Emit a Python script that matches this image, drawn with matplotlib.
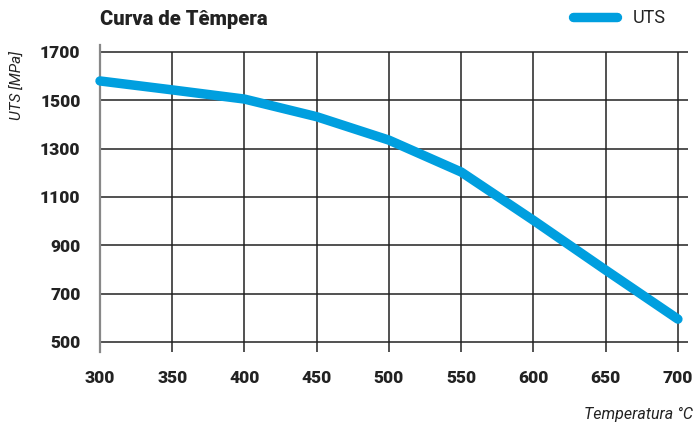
import matplotlib.pyplot as plt
import numpy as np

temps = [300, 350, 400, 450, 500, 550, 600, 650, 700]
uts = [1580, 1543, 1505, 1432, 1335, 1203, 1003, 797, 594]
xticks = [300, 350, 400, 450, 500, 550, 600, 650, 700]
yticks = [500, 700, 900, 1100, 1300, 1500, 1700]

blue = '#009FDF'
plt.rcParams['font.family'] = ['Roboto', 'DejaVu Sans']

fig = plt.figure(figsize=(6.94, 4.25), dpi=100)
ax = fig.add_axes([0.1441, 0.1718, 0.8473, 0.7224])

ax.set_xlim(300, 707)
ax.set_ylim(458, 1729)

# grid drawn by hand so the verticals stop at 1700 and run past the bottom line
ax.hlines(yticks, 300, 707, color='#222222', linewidth=1.1, zorder=1)
ax.vlines(xticks[1:], 458, 1700, color='#222222', linewidth=1.1, zorder=1)

ax.plot(temps, uts, color=blue, linewidth=6.8, solid_capstyle='round',
        solid_joinstyle='round', zorder=3, clip_on=False, label='UTS')

for s in ['top', 'right', 'bottom']:
    ax.spines[s].set_visible(False)
ax.spines['left'].set_color('#888888')
ax.spines['left'].set_linewidth(1.6)

ax.set_xticks(xticks)
ax.set_yticks(yticks)
ax.tick_params(axis='both', length=0, labelsize=12.5, colors='#222222')
ax.tick_params(axis='y', pad=14)
ax.tick_params(axis='x', pad=13)
for lbl in ax.get_xticklabels() + ax.get_yticklabels():
    lbl.set_fontweight('black')

fig.text(0.144, 0.955, 'Curva de Têmpera', fontsize=14.5, fontweight='black',
         color='#222222', va='center', ha='left')
fig.text(0.025, 0.80, 'UTS [MPa]', fontsize=11, style='italic', rotation=90,
         color='#222222', va='center', ha='center')
fig.text(0.998, 0.025, 'Temperatura °C', fontsize=11.5, style='italic',
         color='#222222', va='center', ha='right')

leg = fig.legend(loc='center right', bbox_to_anchor=(0.983, 0.958), frameon=False,
                 fontsize=13, handlelength=2.4, handletextpad=0.9)
for t in leg.get_texts():
    t.set_color('#222222')

fig.savefig('out.png', dpi=100)
